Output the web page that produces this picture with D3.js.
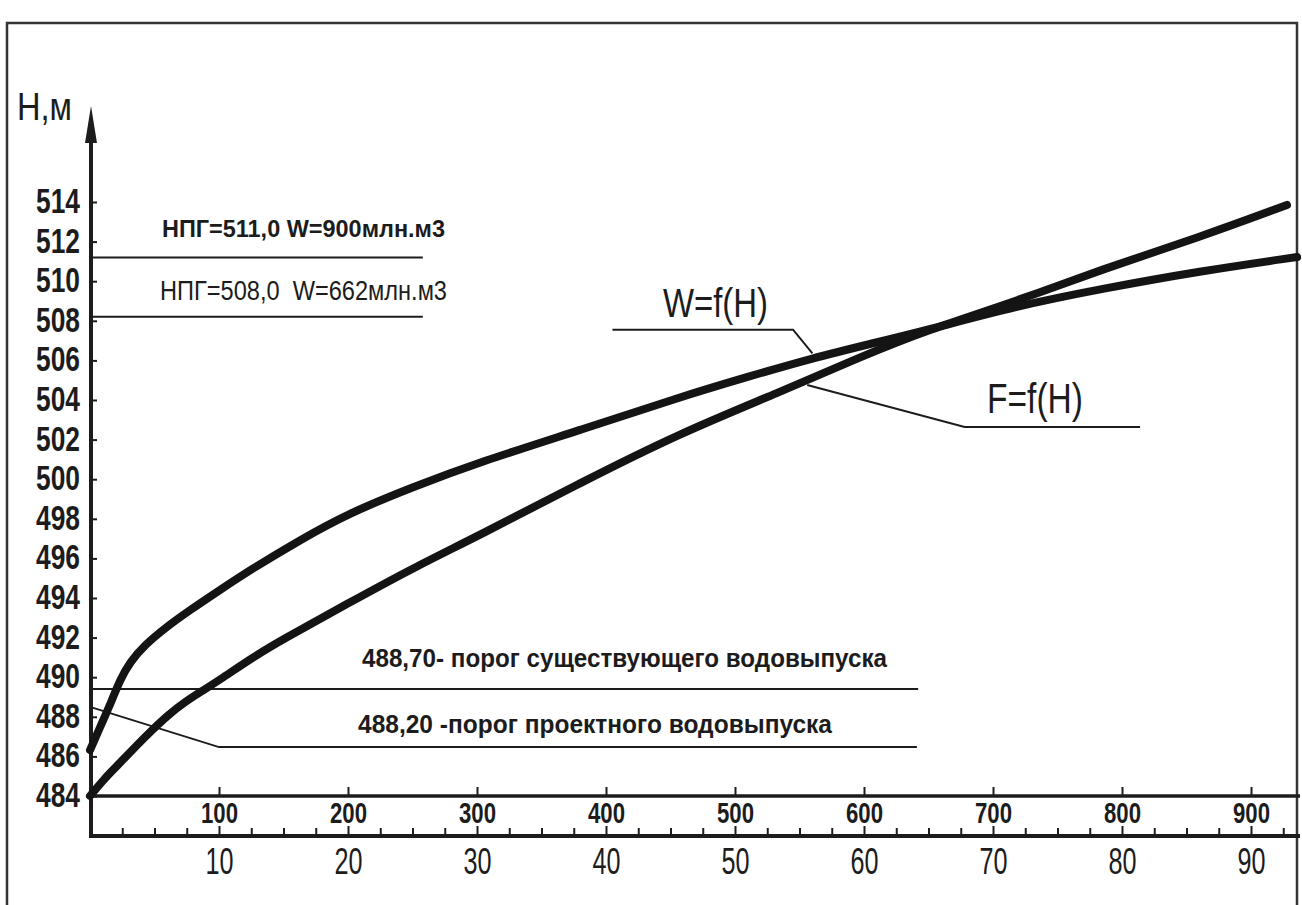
<!DOCTYPE html>
<html>
<head>
<meta charset="utf-8">
<script src="https://cdn.jsdelivr.net/npm/d3@7"></script>
<style>
  body { margin: 0; background: #fff; }
  svg { display: block; }
  text { font-family: "Liberation Sans", Arial, sans-serif; fill: #1c1c1c; }
</style>
</head>
<body>
<div class="chart"></div>
<script>
// Level H (m) ticks, volume W (mln m3) ticks, area F (km2) ticks
var levelTicks = [484, 486, 488, 490, 492, 494, 496, 498, 500, 502, 504, 506, 508, 510, 512, 514];
var volumeTicks = [100, 200, 300, 400, 500, 600, 700, 800, 900];
var areaTicks = [2.5, 5, 7.5, 10, 12.5, 15, 17.5, 20, 22.5, 25, 27.5, 30, 32.5, 35, 37.5, 40, 42.5, 45,
                 47.5, 50, 52.5, 55, 57.5, 60, 62.5, 65, 67.5, 70, 72.5, 75, 77.5, 80, 82.5, 85, 87.5, 90, 92.5];
var areaLabels = [10, 20, 30, 40, 50, 60, 70, 80, 90];

// W=f(H) curve
var volumeW = [0, 9.3, 17.1, 23.3, 31.0, 42.6, 58.1, 77.5, 98.4, 124.0, 162.8, 199.2, 250.4, 302.3,
               379.8, 457.4, 509.3, 560.5, 604.7, 648.8, 718.6, 783.0, 860.5, 935.7];
var volumeH = [486.32, 487.69, 488.85, 489.86, 490.77, 491.63, 492.48, 493.39, 494.3, 495.41, 496.93, 498.24, 499.61, 500.87,
               502.48, 504.15, 505.16, 506.12, 506.83, 507.53, 508.75, 509.6, 510.51, 511.22];

// F=f(H) curve
var areaF = [0, 1.16, 2.17, 3.49, 4.81, 6.05, 7.36, 8.68, 9.92, 12.79, 14.73, 19.92, 25.04, 30.23,
             37.98, 45.74, 53.49, 59.69, 64.88, 71.86, 78.29, 86.05, 92.79];
var areaH = [484.0, 484.91, 485.57, 486.47, 487.33, 488.09, 488.75, 489.3, 489.81, 491.07, 491.83, 493.7, 495.52, 497.18,
             499.81, 502.33, 504.4, 506.17, 507.53, 509.0, 510.57, 512.23, 513.85];

// normal headwater levels and their labels
var npgLevels = [511.2, 508.2];
var npgLabels = ["НПГ=511,0 W=900млн.м3", "НПГ=508,0\u00a0 W=662млн.м3"];

// outlet sills
var sillLevel = 489.4;
var sillLeader = [[0, 488.5], [100, 486.47], [641, 486.47]];
var sillLabels = ["488,70- порог существующего водовыпуска", "488,20 -порог проектного водовыпуска"];

// curve captions and their leaders
var wLeader = [[405, 507.55], [545, 507.55], [560, 506.35]];
var fLeader = [[55.6, 504.76], [67.8, 502.64], [81.4, 502.64]];

var svgWidth = 1302, svgHeight = 905;
var ink = "#1c1c1c";

var svg = d3.select(".chart").append("svg")
    .attr("width", svgWidth)
    .attr("height", svgHeight);

svg.append("rect").attr("width", svgWidth).attr("height", svgHeight).attr("fill", "#fff");

// scales: volume on the upper axis, area on the lower one (same pixel span)
var x = d3.scaleLinear().domain([0, 900]).range([90, 1251]);
var xArea = d3.scaleLinear().domain([0, 90]).range([90, 1251]);
var y = d3.scaleLinear().domain([484, 514]).range([796, 202]);

var axisLeftX = 91, axisRightX = 1300, lowerAxisY = 836;

// outer frame
svg.append("path")
    .attr("d", "M7,905 L7,23 L1297,23 L1297,905")
    .attr("fill", "none").attr("stroke", "#333").attr("stroke-width", 2.5);

// y axis
var yAxis = d3.axisLeft(y).tickValues(levelTicks).tickSize(-6).tickPadding(11).tickFormat(d3.format("d"));
var gy = svg.append("g").attr("class", "y-axis").attr("transform", "translate(" + axisLeftX + ",0)").call(yAxis);
gy.select(".domain").remove();
gy.selectAll(".tick line").attr("stroke", ink).attr("stroke-width", 2);
gy.selectAll(".tick text")
    .attr("fill", ink).attr("font-size", 35).attr("font-weight", "bold")
    .attr("font-family", "Liberation Sans, Arial, sans-serif")
    .attr("dy", "0.30em")
    .attr("textLength", 44).attr("lengthAdjust", "spacingAndGlyphs");

svg.append("line")
    .attr("x1", axisLeftX).attr("x2", axisLeftX)
    .attr("y1", lowerAxisY + 2).attr("y2", 130)
    .attr("stroke", ink).attr("stroke-width", 4);
svg.append("path")
    .attr("d", "M" + axisLeftX + ",106 L" + (axisLeftX - 6) + ",143 L" + (axisLeftX + 6) + ",143 Z")
    .attr("fill", ink);

svg.append("text")
    .attr("x", 17).attr("y", 120)
    .attr("font-size", 39)
    .attr("textLength", 55).attr("lengthAdjust", "spacingAndGlyphs")
    .text("Н,м");

// upper x axis: volume
var xAxis = d3.axisBottom(x).tickValues(volumeTicks).tickSize(-9).tickPadding(6);
var gx = svg.append("g").attr("class", "x-axis").attr("transform", "translate(0," + y(484) + ")").call(xAxis);
gx.select(".domain").remove();
gx.selectAll(".tick line").attr("stroke", ink).attr("stroke-width", 2);
gx.selectAll(".tick text")
    .attr("fill", ink).attr("font-size", 29).attr("font-weight", "bold")
    .attr("font-family", "Liberation Sans, Arial, sans-serif")
    .attr("textLength", 37).attr("lengthAdjust", "spacingAndGlyphs");
svg.append("line")
    .attr("x1", axisLeftX).attr("x2", axisRightX)
    .attr("y1", y(484)).attr("y2", y(484))
    .attr("stroke", ink).attr("stroke-width", 3.5);

// lower x axis: area
var fAxis = d3.axisBottom(xArea).tickValues(areaTicks).tickSize(-8).tickPadding(12)
    .tickFormat(function(d) { return areaLabels.indexOf(d) >= 0 ? d : ""; });
var gf = svg.append("g").attr("class", "x-axis").attr("transform", "translate(0," + lowerAxisY + ")").call(fAxis);
gf.select(".domain").remove();
gf.selectAll(".tick line").attr("stroke", ink).attr("stroke-width", 2)
    .attr("y2", function(d) { return areaLabels.indexOf(d) >= 0 ? -10 : -8; });
gf.selectAll(".tick text")
    .attr("fill", ink).attr("font-size", 37)
    .attr("font-family", "Liberation Sans, Arial, sans-serif")
    .filter(function(d) { return areaLabels.indexOf(d) >= 0; })
    .attr("textLength", 28).attr("lengthAdjust", "spacingAndGlyphs");
svg.append("line")
    .attr("x1", axisLeftX).attr("x2", axisRightX)
    .attr("y1", lowerAxisY).attr("y2", lowerAxisY)
    .attr("stroke", ink).attr("stroke-width", 4);

// NPG lines
var thin = d3.line().x(function(d) { return x(d[0]); }).y(function(d) { return y(d[1]); });
npgLevels.forEach(function(h) {
    svg.append("path").attr("d", thin([[1, h], [258, h]]))
        .attr("fill", "none").attr("stroke", ink).attr("stroke-width", 2);
});
svg.append("text").attr("x", 162).attr("y", 237)
    .attr("font-size", 24).attr("font-weight", "bold")
    .attr("textLength", 283).attr("lengthAdjust", "spacingAndGlyphs")
    .text(npgLabels[0]);
svg.append("text").attr("x", 160).attr("y", 300)
    .attr("font-size", 27)
    .attr("textLength", 287).attr("lengthAdjust", "spacingAndGlyphs")
    .text(npgLabels[1]);

// sill lines
svg.append("path").attr("d", thin([[1, sillLevel], [642, sillLevel]]))
    .attr("fill", "none").attr("stroke", ink).attr("stroke-width", 2);
svg.append("path").attr("d", thin(sillLeader))
    .attr("fill", "none").attr("stroke", ink).attr("stroke-width", 2);
svg.append("text").attr("x", 362).attr("y", 667)
    .attr("font-size", 26).attr("font-weight", "bold")
    .attr("textLength", 525).attr("lengthAdjust", "spacingAndGlyphs")
    .text(sillLabels[0]);
svg.append("text").attr("x", 358).attr("y", 733)
    .attr("font-size", 26).attr("font-weight", "bold")
    .attr("textLength", 474).attr("lengthAdjust", "spacingAndGlyphs")
    .text(sillLabels[1]);

// curves
var volumeData = volumeW.map(function(w, i) { return {v: w, h: volumeH[i]}; });
var areaData = areaF.map(function(f, i) { return {v: f, h: areaH[i]}; });

var volumeLine = d3.line().x(function(d) { return x(d.v); }).y(function(d) { return y(d.h); }).curve(d3.curveBasis);
var areaLine = d3.line().x(function(d) { return xArea(d.v); }).y(function(d) { return y(d.h); }).curve(d3.curveBasis);

svg.append("path").datum(areaData).attr("d", areaLine)
    .attr("fill", "none").attr("stroke", "#141414").attr("stroke-width", 8).attr("stroke-linecap", "round");
svg.append("path").datum(volumeData).attr("d", volumeLine)
    .attr("fill", "none").attr("stroke", "#141414").attr("stroke-width", 8).attr("stroke-linecap", "round");

// captions
svg.append("path").attr("d", thin(wLeader))
    .attr("fill", "none").attr("stroke", ink).attr("stroke-width", 2);
var thinArea = d3.line().x(function(d) { return xArea(d[0]); }).y(function(d) { return y(d[1]); });
svg.append("path").attr("d", thinArea(fLeader))
    .attr("fill", "none").attr("stroke", ink).attr("stroke-width", 2);

svg.append("text").attr("x", 663).attr("y", 317)
    .attr("font-size", 40)
    .attr("textLength", 105).attr("lengthAdjust", "spacingAndGlyphs")
    .text("W=f(H)");
svg.append("text").attr("x", 987).attr("y", 413)
    .attr("font-size", 42)
    .attr("textLength", 96).attr("lengthAdjust", "spacingAndGlyphs")
    .text("F=f(H)");
</script>
</body>
</html>
